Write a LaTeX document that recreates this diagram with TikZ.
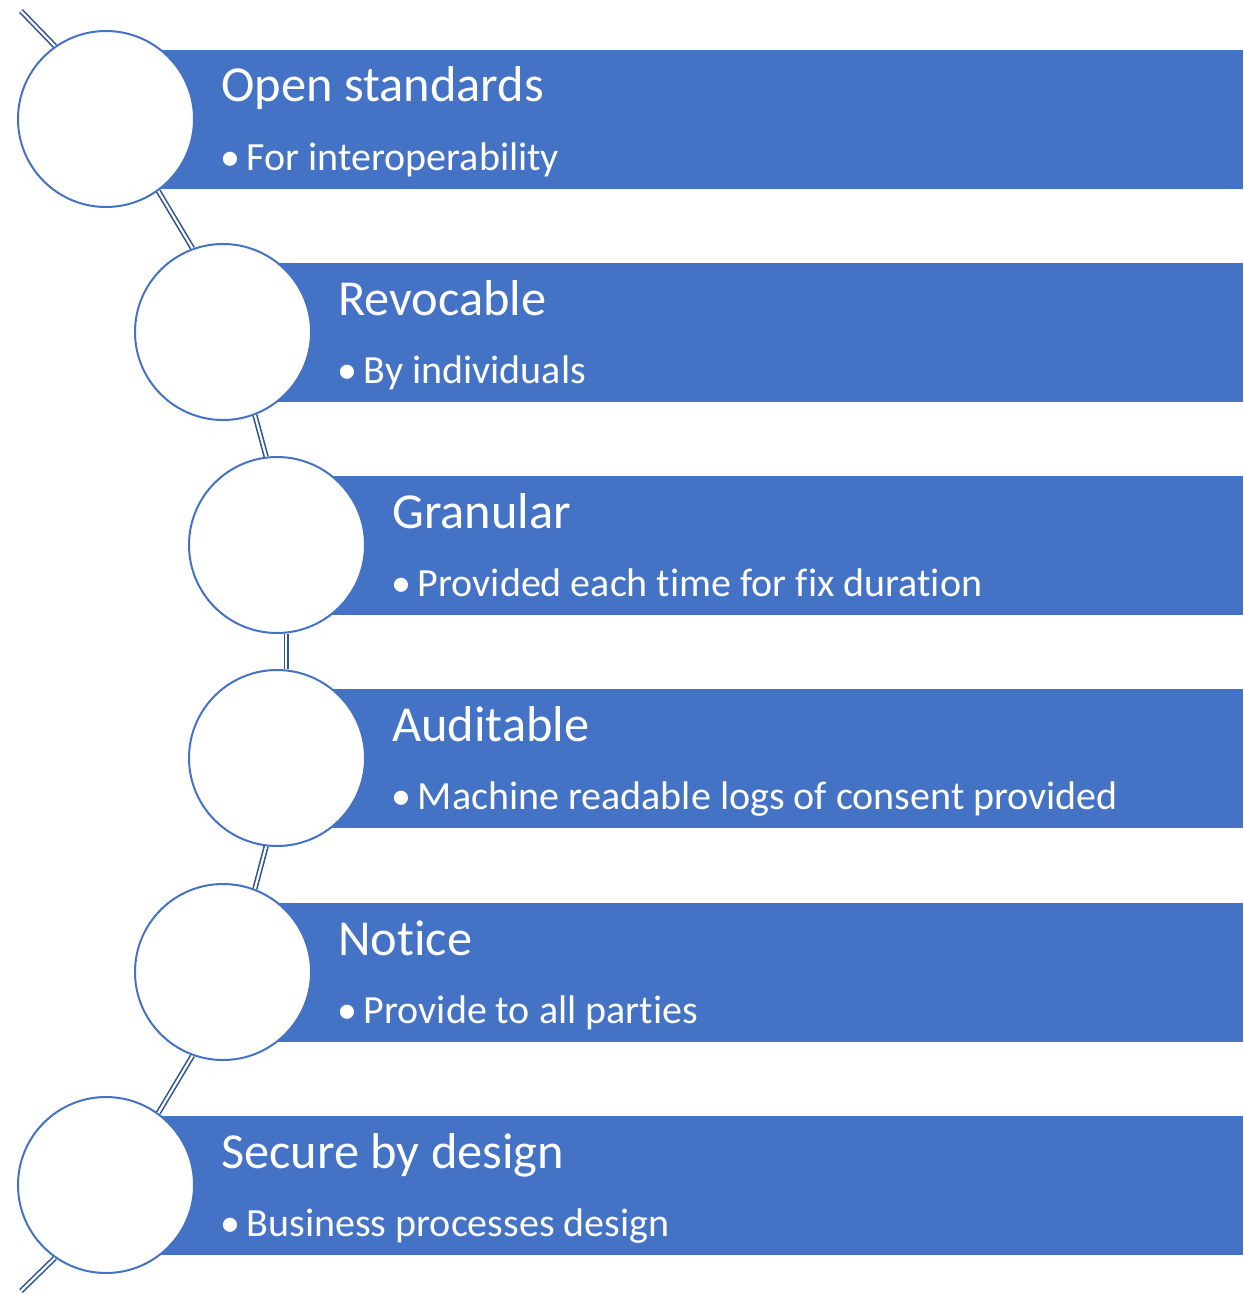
\documentclass[tikz,border=0pt]{standalone}
\usepackage{fontspec}
\setmainfont{Carlito}[Ligatures=NoCommon]
\usetikzlibrary{positioning}
\definecolor{barblue}{HTML}{4472C4}
\definecolor{linkblue}{HTML}{2F5597}

\begin{document}
\begin{tikzpicture}[
    x = 0.75pt, y = -0.75pt, % one unit = one pixel, y downwards
    ring/.style = {circle, draw = barblue, line width = 1.5pt, fill = white,
                   minimum size = 132pt, inner sep = 0pt},
    link/.style = {draw = linkblue, line width = 1.2pt, double = white,
                   double distance = 1.6pt},
    title/.style = {text = white, anchor = base west, inner sep = 0pt,
                    font = \fontsize{37.8}{40}\selectfont},
    point/.style = {text = white, anchor = base west, inner sep = 0pt,
                    font = \fontsize{30}{34}\selectfont}
    ]
    \useasboundingbox (0,0) rectangle (1243,1295);

    % bars
    \fill[barblue] (156,50) rectangle (1243,189);
    \fill[barblue] (273,263) rectangle (1243,402);
    \fill[barblue] (327,476) rectangle (1243,615);
    \fill[barblue] (327,689) rectangle (1243,828);
    \fill[barblue] (273,903) rectangle (1243,1042);
    \fill[barblue] (156,1116) rectangle (1243,1255);

    % texts
    \node[title] (t1) at (221,102) {Open standards};
    \node[point] (p1) at (220,170) {•\,For interoperability};
    \node[title] (t2) at (338,315) {Revocable};
    \node[point] (p2) at (337,383) {•\,By individuals};
    \node[title] (t3) at (392,528) {Granular};
    \node[point] (p3) at (391,596) {•\,Provided each time for fix duration};
    \node[title] (t4) at (392,741) {Auditable};
    \node[point] (p4) at (391,809) {•\,Machine readable logs of consent provided};
    \node[title] (t5) at (338,955) {Notice};
    \node[point] (p5) at (337,1023) {•\,Provide to all parties};
    \node[title] (t6) at (221,1168) {Secure by design};
    \node[point] (p6) at (220,1236) {•\,Business processes design};

    % circles
    \node[ring] (c1) at (106,119) {};
    \node[ring] (c2) at (223,332) {};
    \node[ring] (c3) at (277,545) {};
    \node[ring] (c4) at (277,758) {};
    \node[ring] (c5) at (223,972) {};
    \node[ring] (c6) at (106,1185) {};

    % connectors
    \coordinate (top) at (21,11);
    \coordinate (bottom) at (21,1291);
    \path[link] (top) -- (c1.125);
    \path[link] (c1.-54) -- (c2.110);
    \path[link] (c2.-69) -- (c3.97);
    \path[link] (c3.-84) -- (c4.84);
    \path[link] (c4.-97) -- (c5.69);
    \path[link] (c5.-110) -- (c6.54);
    \path[link] (c6.-125) -- (bottom);
\end{tikzpicture}
\end{document}
